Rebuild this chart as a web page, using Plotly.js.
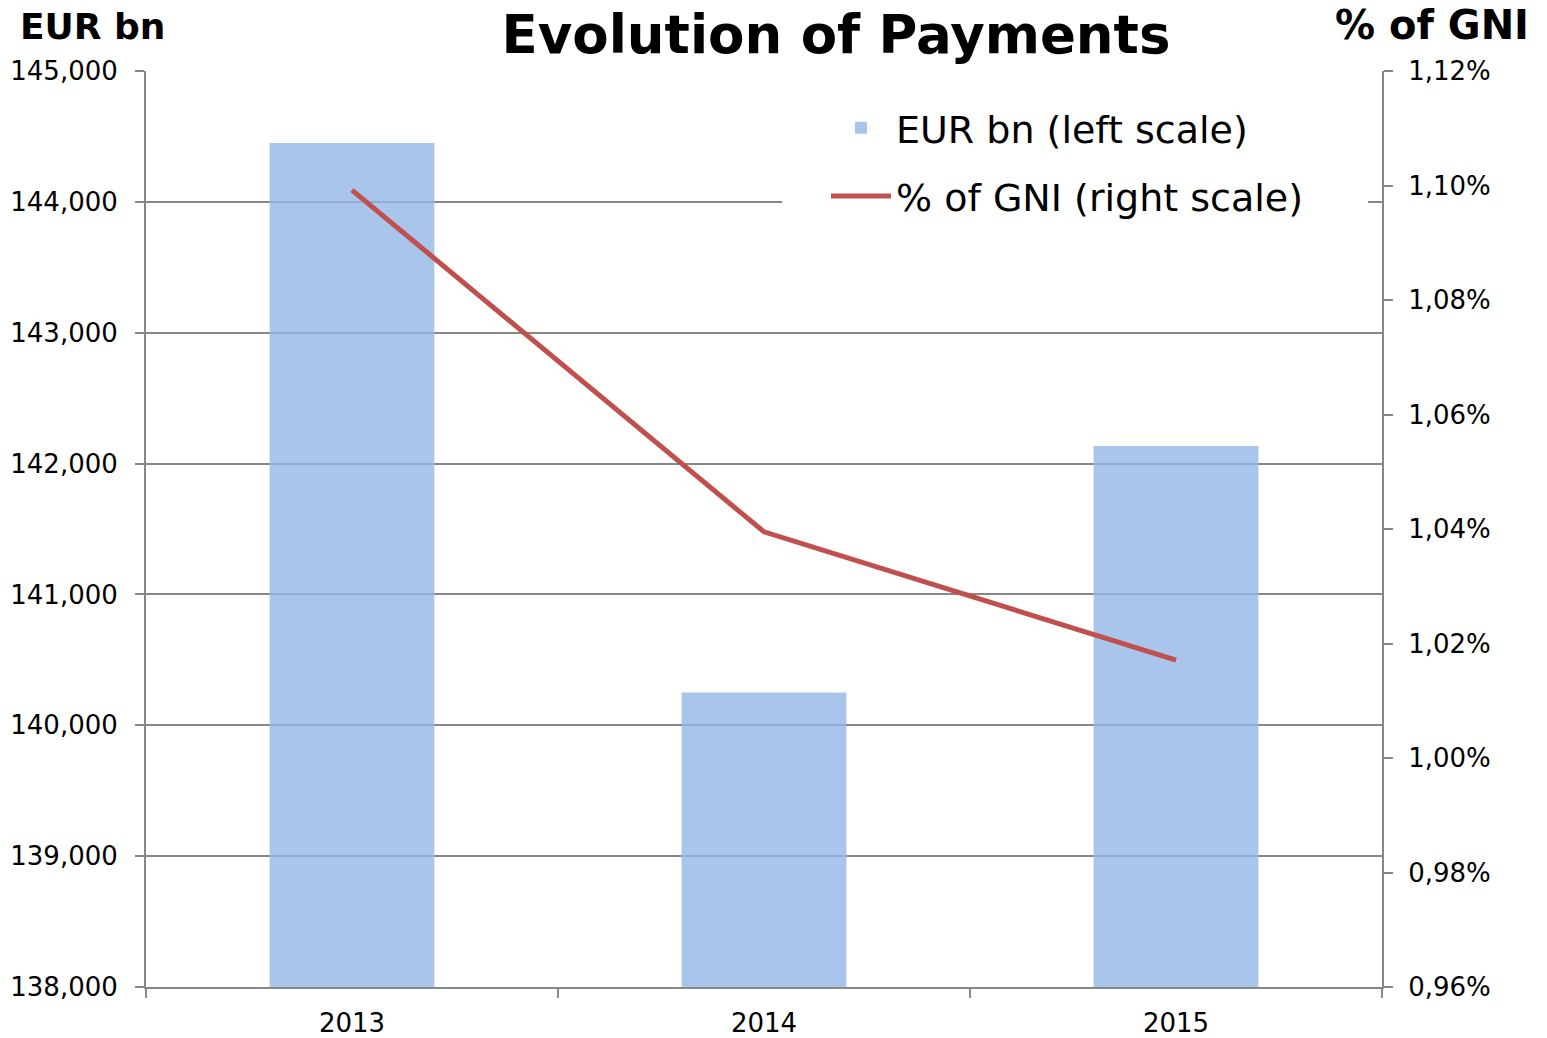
<!DOCTYPE html>
<html>
<head>
<meta charset="utf-8">
<script src="https://cdn.plot.ly/plotly-3.0.1.min.js"></script>
<style>html,body{margin:0;padding:0;background:#fff;}#chart{width:1547px;height:1038px;}</style>
</head>
<body>
<div id="chart"></div>
<script>
const years = ['2013', '2014', '2015'];
const paymentsEURbn = [144450, 140250, 142135];
const pctOfGNI = [1.0992, 1.0395, 1.0171];
const rightTickVals = [0.96, 0.98, 1.00, 1.02, 1.04, 1.06, 1.08, 1.10, 1.12];
const rightTickText = ['0,96%', '0,98%', '1,00%', '1,02%', '1,04%', '1,06%', '1,08%', '1,10%', '1,12%'];

const FONT = 'DejaVu Sans, Verdana, sans-serif';
const GRID = '#878787';

const traces = [
  {
    type: 'bar', x: years, y: paymentsEURbn, name: 'EUR bn (left scale)',
    marker: {color: 'rgba(147,183,230,0.8)', line: {width: 0}},
    width: 0.4, legendgroup: 'a', yaxis: 'y'
  },
  {
    type: 'scatter', mode: 'lines', x: years, y: pctOfGNI, name: '% of GNI (right scale)',
    line: {color: '#C0504D', width: 5}, legendgroup: 'b', yaxis: 'y2'
  }
];

const layout = {
  width: 1547, height: 1038,
  margin: {l: 146, r: 165, t: 71, b: 51, pad: 0},
  paper_bgcolor: '#fff', plot_bgcolor: '#fff',
  font: {family: FONT, color: '#000', size: 26},
  title: {text: '<b>Evolution of Payments</b>', font: {family: FONT, size: 53, color: '#000'},
          x: 836/1547, xref: 'container', xanchor: 'center', y: 1 - 34/1038, yref: 'container', yanchor: 'middle'},
  showlegend: true,
  legend: {x: (826-146)/1236, xanchor: 'left', y: 0.97 + 2/916, yanchor: 'top', bgcolor: 'rgba(255,255,255,0)',
           font: {family: FONT, size: 38, color: '#000'}, traceorder: 'grouped', tracegroupgap: 16,
           itemwidth: 60},
  shapes: [
    {type: 'rect', xref: 'paper', yref: 'paper', layer: 'above',
     x0: (782-146)/1236, x1: (1368-146)/1236, y0: (987-232)/916, y1: (987-100)/916,
     fillcolor: '#fff', line: {width: 0}}
  ],
  bargap: 0.6,
  xaxis: {type: 'category', showline: true, linecolor: GRID, linewidth: 2, ticks: 'outside', tickson: 'boundaries',
          ticklen: 9, tickwidth: 2, tickcolor: GRID, showgrid: false, tickfont: {size: 26}, zeroline: false,
          ticklabelstandoff: 12},
  yaxis: {range: [138000, 145000], dtick: 1000, tickformat: ',d', showline: true, linecolor: GRID, linewidth: 2,
          ticks: 'outside', ticklen: 9, tickwidth: 2, tickcolor: GRID, showgrid: true, gridcolor: GRID, gridwidth: 2,
          zeroline: false, tickfont: {size: 26}, ticklabelstandoff: 12},
  yaxis2: {overlaying: 'y', side: 'right', range: [0.96, 1.12], tickvals: rightTickVals, ticktext: rightTickText,
           showline: true, linecolor: GRID, linewidth: 2, ticks: 'outside', ticklen: 9, tickwidth: 2, tickcolor: GRID,
           showgrid: false, zeroline: false, tickfont: {size: 26}, ticklabelstandoff: 10},
  annotations: [
    {text: '<b>EUR bn</b>', xref: 'paper', yref: 'paper', x: (92-146)/1236, y: (987-26)/916, xanchor: 'center', yanchor: 'middle',
     showarrow: false, font: {family: FONT, size: 36, color: '#000'}},
    {text: '<b>% of GNI</b>', xref: 'paper', yref: 'paper', x: (1432-146)/1236, y: (987-25)/916, xanchor: 'center', yanchor: 'middle',
     showarrow: false, font: {family: FONT, size: 40, color: '#000'}}
  ]
};

Plotly.newPlot('chart', traces, layout, {displayModeBar: false, staticPlot: true});
</script>
</body>
</html>
